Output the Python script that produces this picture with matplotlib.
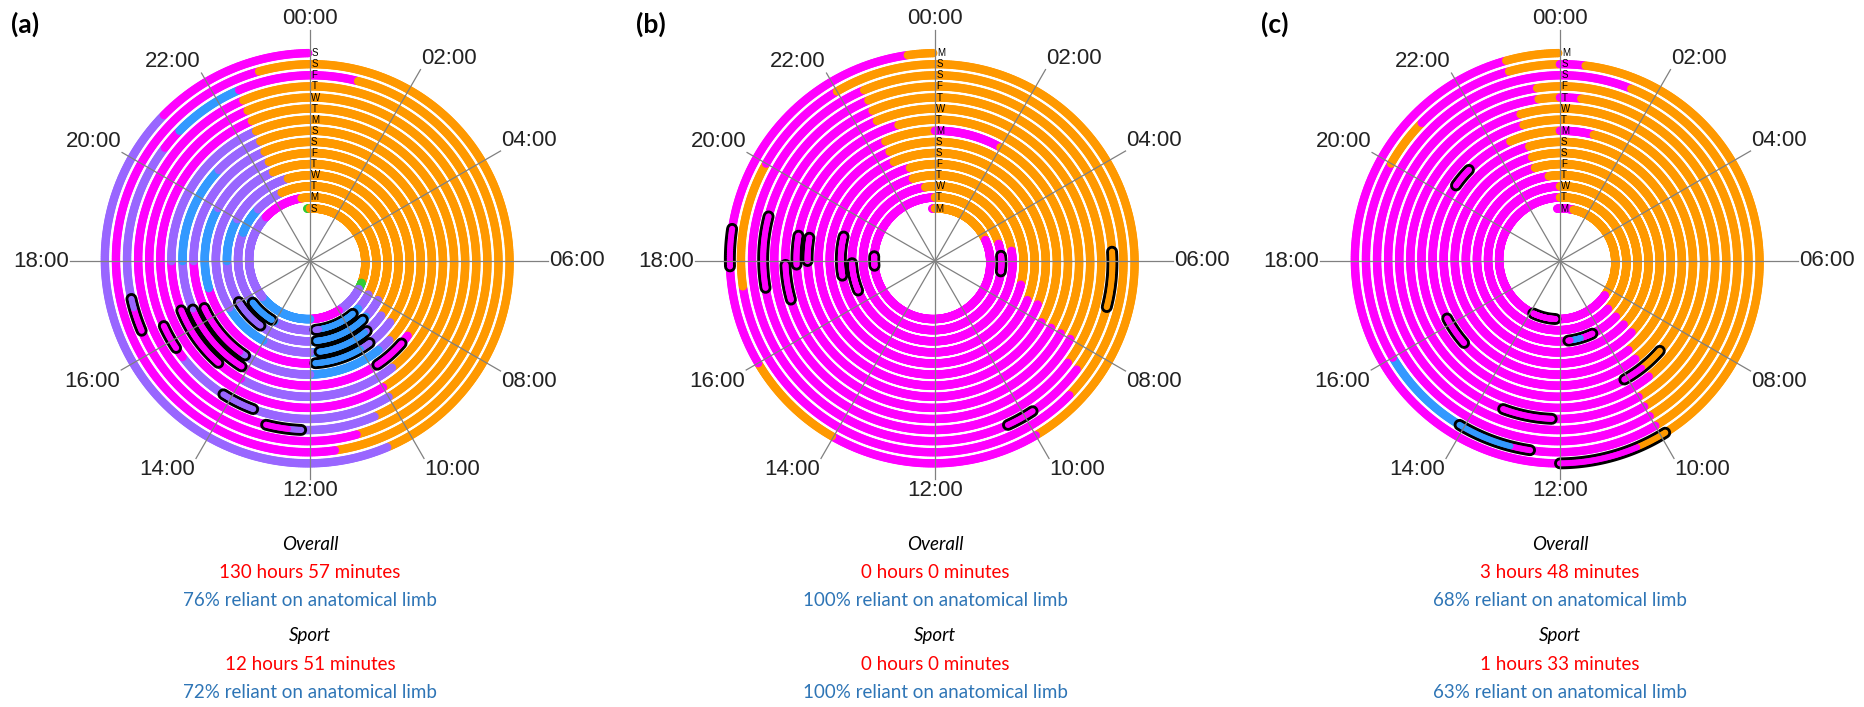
import numpy as np
import matplotlib
matplotlib.use("Agg")
import matplotlib.pyplot as plt

# ---------------------------------------------------------------- data
# activity class per half-hour slot (48 per day), day 1 = innermost turn
# O: orange, M: magenta, B: blue, V: violet (mixed), G: green
PALETTE = {"O": "#FF9900", "M": "#FF00FF", "B": "#3399FF", "V": "#9966FF", "G": "#33CC33"}

HOUR_LABELS = ["00:00", "02:00", "04:00", "06:00", "08:00", "10:00",
               "12:00", "14:00", "16:00", "18:00", "20:00", "22:00"]

DAYS_A = ["S", "M", "T", "W", "T", "F", "S", "S", "M", "T", "W", "T", "F", "S", "S"]
DAYS_B = ["M", "T", "W", "T", "F", "S", "S", "M", "T", "W", "T", "F", "S", "S", "M"]
DAYS_C = ["M", "T", "W", "T", "F", "S", "S", "M", "T", "W", "T", "F", "S", "S", "M"]

ACT_A = [
    "OOOOOOOOOOOO OOOGVVVVMMMM BBBBBBBVVVVV VVVVVVMMMMMO",
    "OOOOOOOOOOOO OOOOVVBBBBBV VVVVBBBBVVVV VVVBBBVVVOOO",
    "OOOOOOOOOOOO OOOOVVBBBBBB VVVVVVVVVVVV BBBBVVVVVVOO",
    "OOOOOOOOOOOO OOOOOVVBBBBB VVVVBBBBVVVV VVVVVVVVVOOO",
    "OOOOOOOOOOOO OOOOOVVVBBBB MMMMMMMMMMBB BBBBVVVVVOOO",
    "OOOOOOOOOOOO OOOOOOVBBBBB VVVVVMMMMMMM VVVVVVVVVOOO",
    "OOOOOOOOOOOO OOOOOMMMMMMM MMMMMMMMMVVV BBBBBBVVVOOO",
    "OOOOOOOOOOOO OOOOOOOVVVVV VVVVMMMMMMMM VVVVVVVVVOOO",
    "OOOOOOOOOOOO OOOOOOOOMMMM MMMMMMMMMMMM MMMMMMMMMOOO",
    "OOOOOOOOOOOO OOOOOOOOVVVV VVVVVVVMMMMM MMMMMMMMMOOO",
    "OOOOOOOOOOOO OOOOOOOOOVVV VMMMMMMMMMMM MMMMMMMMMOOO",
    "OOOOOOOOOOOO OOOOOOOOOOMM MMMMMMMMMMVV VVVVVMBBBMMM",
    "MMOOOOOOOOOO OOOOOOOOOOOM MMMMMMMMMMMM MMMMMMMMMMOO",
    "OOOOOOOOOOOO OOOOOOOOOVVV VVVVVVVVVVVV VVVVVVMMMMMM",
]
ACT_B = [
    "OOOOOOOOOMMM MMMMMMMMMMMM MMMMMMMMMMMM MMMMMMMMMMMM",
    "OOOOOOOOOOMM MMMMMMMMMMMM MMMMMMMMMMMM MMMMMMMMMMMO",
    "OOOOOOOOOOOM MMMMMMMMMMMM MMMMMMMMMMMM MMMMMMMMMMOO",
    "OOOOOOOOOOOO OOMMMMMMMMMM MMMMMMMMMMMM MMMMMMMMMMOO",
    "OOOOOOOOOOOO OOOMMMMMMMMM MMMMMMMMMMMM MMMMMMMMMOOO",
    "OOOOOOOOOOOO OOOMMMMMMMMM MMMMMMMMMMMM MMMMMMMMMOOO",
    "OOOOOOOOOOOO OOOOMMMMMMMM MMMMMMMMMMMM MMMMMMMMMOOO",
    "MMMMOOOOOOOO OOOOMMMMMMMM MMMMMMMMMMMM MMMMMMMMMMOO",
    "OOOOOOOOOOOO OOOOMMMMMMMM MMMMMMMMMMMM MMMMMMMMMOOO",
    "OOOOOOOOOOOO OOOOMMMMMMMM MMMMMMMMMMMM MMMMMMMMMOOO",
    "OOOOOOOOOOOO OOOOOMMMMMMM MMMMMMMMMMMM MMMMMMMMMOOO",
    "OOOOOOOOOOOO OOOOOMMMMMMM MMMMMMMMMMMM MMMMMMMMMOOO",
    "OOOOOOOOOOOO OOOOOOMMMMMM MMMMMMMMMMMO OOOOMMMMOOOO",
    "OOOOOOOOOOOO OOOOOOOOMMMM MMMMOOOOMMMM MMMMMMMMMMMO",
]
ACT_C = [
    "MMOOOOOOOOOO OOOOOMMMMMMM MMMMMMMMMMMM MMMMMMMMMMMM",
    "OOOOOOOOOOOO OOOOOOMMMMMM MMMMMMMMMMMM MMMMMMMMMMMM",
    "OOOOOOOOOOOO OOOOOOMMMMBM MMMMMMMMMMMM MMMMMMMMMMMO",
    "OOOOOOOOOOOO OOOOOOMMMMMM MMMMMMMMMMMM MMMMMMMMMMOO",
    "OOOOOOOOOOOO OOOOOOMMMMMM MMMMMMMMMMMM MMMMMMMMMMOO",
    "OOOOOOOOOOOO OOOOOOOMMMMM MMMMMMMMMMMM MMMMMMMMMMOO",
    "OOOOOOOOOOOO OOOOOOOMMMMM MMMMMMMMMMMM MMMMMMMMMOOO",
    "MMOOOOOOOOOO OOOOOOOMMMMM MMMMMMMMMMMM MMMMMMMMMMOO",
    "OOOOOOOOOOOO OOOOOOOMMMMM MMMMMMMMMMMM MMMMMMMMMMOO",
    "OOOOOOOOOOOO OOOOOOOOMMMM MMMMMMMMMMMM MMMMMMMMMMMO",
    "MOOOOOOOOOOO OOOOOOOOMMMM MMMMMMMMMMMM MMMMMMMMMMMO",
    "OOOOOOOOOOOO OOOOOOOOMMMM MMMMMMMMMMMM MMMMMMMMMMMM",
    "MMMOOOOOOOOO OOOOOOOOMMMM MMBBBBBBMMMM MMMMOOMMMMOO",
    "MOOOOOOOOOOO OOOOOOOOOMMM MMMMMMMMMMMM MMMMMMMMMMOO",
]

# last minutes recorded before the first full day: (hour, class)
LEAD_A = (23.8, "G")
LEAD_B = (23.8, "M")
LEAD_C = (23.8, "M")

# sport sessions: (day, start hour, end hour)
SPORT_A = [(2, 14.2, 15.6), (3, 14.5, 16.0), (2, 9.4, 11.7), (3, 9.2, 11.7),
           (4, 9.4, 11.6), (5, 9.6, 11.8), (6, 14.3, 16.4), (7, 14.2, 16.5),
           (8, 14.8, 16.6), (7, 8.8, 9.8), (10, 13.4, 14.2), (10, 15.8, 16.4),
           (11, 12.2, 13.0), (12, 16.5, 17.2)]
SPORT_B = [(1, 17.7, 18.3), (2, 5.7, 6.6), (3, 16.6, 17.9), (4, 17.4, 19.0),
           (7, 18.0, 18.7), (8, 17.9, 18.7), (9, 17.0, 17.9), (11, 17.4, 19.0),
           (12, 5.8, 7.0), (12, 9.8, 10.4), (14, 17.9, 18.6)]
SPORT_C = [(1, 12.3, 13.8), (3, 10.4, 11.6), (7, 15.3, 16.2), (7, 20.4, 21.0),
           (8, 8.8, 10.1), (10, 12.2, 13.4), (13, 12.6, 14.1), (14, 9.9, 12.0)]

TEXT_A = ("(a)", "130 hours 57 minutes", "76% reliant on anatomical limb",
          "12 hours 51 minutes", "72% reliant on anatomical limb")
TEXT_B = ("(b)", "0 hours 0 minutes", "100% reliant on anatomical limb",
          "0 hours 0 minutes", "100% reliant on anatomical limb")
TEXT_C = ("(c)", "3 hours 48 minutes", "68% reliant on anatomical limb",
          "1 hours 33 minutes", "63% reliant on anatomical limb")

# ---------------------------------------------------------------- layout
W, H, DPI = 1865, 707, 100
CENTRES_X = [310.0, 935.0, 1560.0]
CENTRE_Y = 261.0
R_AX = 250.0                 # pixel radius of the polar frame
R_DAY1 = 52.5                # pixel radius of the first turn at midnight
R_STEP = 11.1                # pixels per day
R_LO = 1 - R_DAY1 / R_STEP   # radial value at the centre
R_HI = 1 + (R_AX - R_DAY1) / R_STEP

# spoke length / label anchor distance (pixels) per clock label
SPOKE_PX = [231, 221, 220, 238, 220, 228, 218, 228, 218, 240, 217, 217]

STEP_MIN = 2
DOT_PT = 6.1                 # marker diameter (points)
SPORT_LW = 8.6               # outline band width (points)
SPORT_CORE_PT = 4.4          # coloured core inside a sport band (points)

RED = "#FF0000"
BLUE_TXT = "#2E75B6"
TXT_FONT = ["Lato", "DejaVu Sans"]
LBL_FONT = ["Liberation Sans", "DejaVu Sans"]


def px_to_r(px):
    return R_LO + px / R_STEP


def spiral(day, h0, h1):
    t = np.arange(h0 * 60, h1 * 60 + 1e-9, STEP_MIN) / 60.0
    theta = 2 * np.pi * t / 24.0
    r = day + t / 24.0
    return theta, r


def day_colours(codes, th):
    slot = np.minimum((th / (2 * np.pi) * 48).astype(int), 47)
    return [PALETTE[codes[i]] for i in slot]


def draw_panel(ax, days, acts, lead, sports):
    ax.set_theta_zero_location("N")
    ax.set_theta_direction(-1)
    ax.set_rlim(R_LO, R_HI)

    # activity trace, plotted in time order so later samples overlap earlier ones
    th_all, r_all, c_all = [], [], []
    h_lead, k_lead = lead
    th, r = spiral(0, h_lead, 24.0)
    th_all.append(th); r_all.append(r); c_all += [PALETTE[k_lead]] * len(th)
    codes_by_day = {}
    for d, s in enumerate(acts, start=1):
        codes = s.replace(" ", "")
        codes_by_day[d] = codes
        th, r = spiral(d, 0.0, 24.0 - STEP_MIN / 60.0)
        th_all.append(th); r_all.append(r)
        c_all += day_colours(codes, th)
    ax.scatter(np.concatenate(th_all), np.concatenate(r_all), s=DOT_PT ** 2,
               c=c_all, marker="o", edgecolors="none", zorder=3)

    # sport sessions: black band with a coloured core
    for d, h0, h1 in sports:
        th, r = spiral(d, h0, h1)
        ax.plot(th, r, color="black", lw=SPORT_LW, solid_capstyle="round", zorder=3.2)
        ax.scatter(th, r, s=SPORT_CORE_PT ** 2, c=day_colours(codes_by_day[d], th),
                   marker="o", edgecolors="none", zorder=3.4)

    # day initials along the midnight spoke
    for i, name in enumerate(days, start=1):
        ax.text(np.deg2rad(0.5), i, name, fontsize=7, family=LBL_FONT,
                ha="left", va="center", zorder=6)

    ax.set_xticks([])
    ax.set_yticks([])
    ax.grid(False)
    ax.spines["polar"].set_visible(False)
    ax.set_facecolor("none")

    # spokes and clock labels, each label anchored at its spoke end
    for i, (lab, px) in enumerate(zip(HOUR_LABELS, SPOKE_PX)):
        ang = np.deg2rad(30 * i)
        r_end = px_to_r(px)
        ax.plot([ang, ang], [R_LO, r_end], color="#808080", lw=0.9, zorder=5)
        s, c = np.sin(ang), np.cos(ang)
        ha = "left" if s > 0.1 else ("right" if s < -0.1 else "center")
        va = "bottom" if c > 0.1 else ("top" if c < -0.1 else "center")
        ax.text(ang, px_to_r(px + 1), lab, fontsize=16, family=LBL_FONT,
                color="#222222", ha=ha, va=va, clip_on=False)


fig = plt.figure(figsize=(W / DPI, H / DPI), dpi=DPI)
panels = [(DAYS_A, ACT_A, LEAD_A, SPORT_A, TEXT_A),
          (DAYS_B, ACT_B, LEAD_B, SPORT_B, TEXT_B),
          (DAYS_C, ACT_C, LEAD_C, SPORT_C, TEXT_C)]

for cx, (days, acts, lead, sports, texts) in zip(CENTRES_X, panels):
    left = (cx - R_AX) / W
    bottom = (H - CENTRE_Y - R_AX) / H
    ax = fig.add_axes([left, bottom, 2 * R_AX / W, 2 * R_AX / H], projection="polar")
    draw_panel(ax, days, acts, lead, sports)

    tag, ov_time, ov_pct, sp_time, sp_pct = texts
    fig.text((cx - 299) / W, 1 - 24 / H, tag, fontsize=19, fontweight="bold",
             family=TXT_FONT, ha="left", va="center")
    fx = cx / W
    rows = [("Overall", "black", "italic", 545), (ov_time, RED, "normal", 573),
            (ov_pct, BLUE_TXT, "normal", 601), ("Sport", "black", "italic", 636),
            (sp_time, RED, "normal", 665), (sp_pct, BLUE_TXT, "normal", 693)]
    for txt, col, style, y in rows:
        fig.text(fx, 1 - y / H, txt, fontsize=13.5, color=col, style=style,
                 family=TXT_FONT, ha="center", va="center")

fig.savefig("out.png", dpi=DPI)
